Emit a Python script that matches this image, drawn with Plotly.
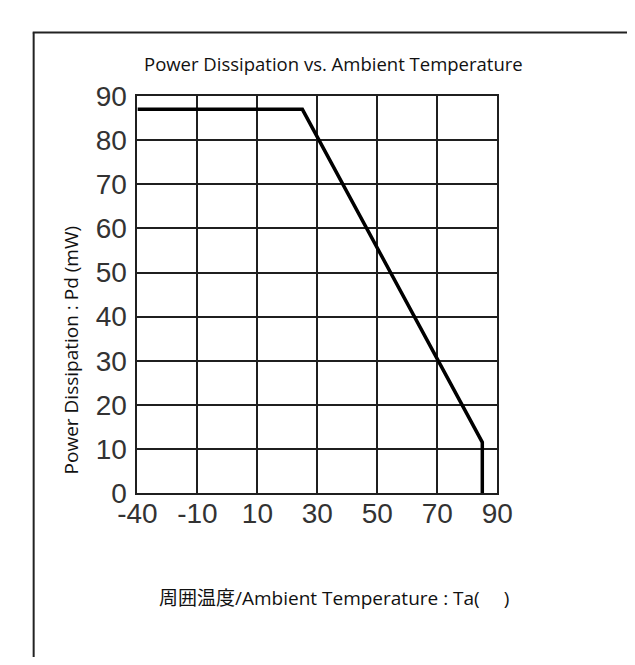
import plotly.graph_objects as go

# Data
temperature_c = [-40, 25, 85, 85]
power_mw = [87, 87, 11.5, 0]

x_tick_labels = [-40, -10, 10, 30, 50, 70, 90]
y_tick_values = [0, 10, 20, 30, 40, 50, 60, 70, 80, 90]

title_text = "Power Dissipation vs. Ambient Temperature"
x_title_text = "周囲温度/Ambient Temperature : Ta(\u3000 )"
y_title_text = "Power Dissipation : Pd (mW)"


# The reference axis is non-uniform: -40..-10 occupies the same width as a 20-degree step.
def to_axis(t):
    return t if t >= -10 else -10 + (t + 10) * (20 / 30)


W, H = 635, 665
xd = [to_axis(t) for t in temperature_c]
tickpos = [to_axis(t) for t in x_tick_labels]

GRID = "#1f1f1f"
TXT = "Open Sans, Noto Sans CJK JP, sans-serif"
TICKFONT = dict(family="Liberation Sans, Arial", size=28, color="#333333")

fig = go.Figure()
fig.add_trace(go.Scatter(x=xd, y=power_mw, mode="lines",
                         line=dict(color="#000000", width=3.5),
                         showlegend=False, hoverinfo="skip"))

fig.update_layout(
    width=W, height=H,
    margin=dict(l=0, r=0, t=0, b=0),
    paper_bgcolor="white", plot_bgcolor="white",
    xaxis=dict(domain=[116 / W, 497.5 / W], range=[to_axis(-40), 90],
               tickvals=tickpos, ticktext=[str(v) for v in x_tick_labels],
               showgrid=True, gridcolor=GRID, gridwidth=2,
               showline=True, linecolor=GRID, linewidth=2, mirror=True,
               zeroline=False, ticks="", ticklabelstandoff=-6,
               tickfont=TICKFONT),
    yaxis=dict(domain=[1 - 493 / H, 1 - 76.7 / H], range=[0, 90],
               tickvals=y_tick_values,
               showgrid=True, gridcolor=GRID, gridwidth=2,
               showline=True, linecolor=GRID, linewidth=2, mirror=True,
               zeroline=False, ticks="", ticklabelstandoff=3,
               tickfont=TICKFONT),
    shapes=[
        dict(type="line", xref="paper", yref="paper", x0=5 / W, x1=1, y0=1 - 10 / H, y1=1 - 10 / H,
             line=dict(color="#222222", width=2)),
        dict(type="line", xref="paper", yref="paper", x0=6 / W, x1=6 / W, y0=1 - 10 / H, y1=0,
             line=dict(color="#222222", width=2)),
    ],
    annotations=[
        dict(text=title_text, xref="paper", yref="paper", x=324 / W, y=1 - 43 / H,
             xanchor="center", yanchor="middle", showarrow=False,
             font=dict(family=TXT, size=18.5, color="#111111")),
        dict(text=x_title_text, xref="paper", yref="paper", x=324 / W, y=1 - 603 / H,
             xanchor="center", yanchor="middle", showarrow=False,
             font=dict(family=TXT, size=19, color="#111111")),
        dict(text=y_title_text, xref="paper", yref="paper", x=46 / W, y=1 - 343 / H,
             xanchor="center", yanchor="middle", showarrow=False, textangle=-90,
             font=dict(family=TXT, size=19, color="#111111")),
    ],
)

fig.write_html("out.html")
